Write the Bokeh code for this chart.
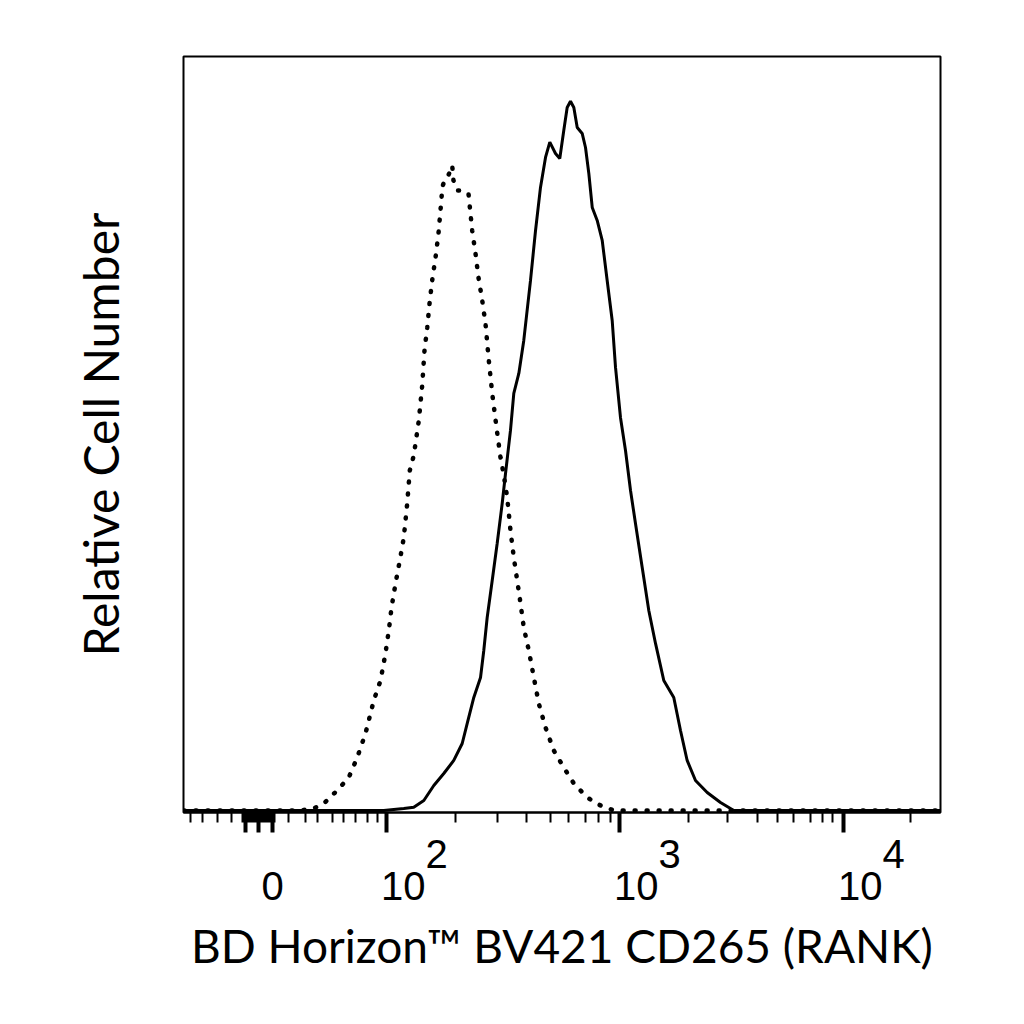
from bokeh.plotting import figure
from bokeh.models import Range1d, FixedTicker, LinearAxis
from bokeh.embed import file_html
from bokeh.resources import INLINE

# histograms on a 1024-channel display scale (biexponential axis)
iso_ch = [0, 158.3, 176.3, 189.8, 207.9, 223.6, 235.0, 246.2, 257.4, 266.5,
          273.2, 277.7, 281.4, 286.8, 292.6, 298.0, 302.6, 306.1, 311.5, 318.3,
          322.9, 326.0, 329.7, 332.8, 336.4, 340.9, 344.9, 349.0, 350.0, 351.7,
          356.7, 363.5, 365.2, 370.6, 374.7, 385.5, 390.5, 395.0, 399.0, 404.1,
          408.5, 412.6, 417.6, 423.4, 428.8, 432.9, 437.9, 442.3, 446.8, 451.4,
          455.9, 460.3, 467.1, 473.9, 480.6, 489.7, 500.9, 514.4, 528.0, 546.1,
          564.1, 582.1, 1024]
iso_count = [0, 0, 0.27, 0.93, 2.67, 4.4, 7.07, 10.27, 14.67, 17.33,
             20.93, 24.0, 27.07, 30.27, 33.33, 36.4, 40.93, 45.33, 47.33, 52.0,
             56.67, 61.33, 64.4, 67.6, 70.67, 73.73, 76.93, 81.6, 83.1, 83.6,
             84.27, 86.0, 84.0, 82.67, 82.67, 82.27, 77.33, 74.27, 71.07, 68.0,
             64.93, 60.4, 55.6, 51.07, 47.07, 44.93, 41.73, 37.33, 33.73, 30.67,
             27.6, 24.4, 21.33, 17.73, 14.27, 11.07, 8.0, 5.73, 3.6, 1.73,
             0.67, 0, 0]

rank_ch = [0, 270.9, 298.0, 311.5, 325.1, 338.6, 352.1, 365.6, 377.0, 383.8,
           392.7, 401.8, 406.2, 410.8, 417.6, 424.3, 431.1, 435.6, 442.3, 446.8,
           453.6, 460.3, 469.4, 476.2, 482.9, 489.7, 495.5, 503.2, 509.0, 514.4,
           519.0, 523.5, 528.0, 532.6, 539.3, 543.8, 548.3, 552.9, 559.6, 566.4,
           573.1, 579.9, 584.4, 591.1, 597.9, 604.7, 611.4, 620.5, 629.4, 638.5,
           649.7, 663.2, 672.3, 681.3, 692.6, 708.4, 726.4, 744.4, 1024]
rank_count = [0, 0, 0.27, 0.44, 1.33, 3.33, 4.93, 6.67, 8.93, 11.6,
              15.07, 17.73, 21.33, 25.73, 30.67, 35.6, 40.93, 44.93, 50.67, 55.6,
              58.27, 62.67, 70.67, 77.33, 83.07, 87.07, 89.11, 87.6, 86.93, 90.67,
              93.73, 94.57, 93.73, 91.07, 90.27, 88.4, 84.93, 80.4, 78.67, 76.0,
              70.67, 65.33, 59.07, 52.4, 48.0, 42.67, 38.27, 32.4, 26.67, 22.27,
              17.33, 15.07, 10.67, 6.67, 4.0, 2.4, 1.07, 0, 0]

major_ticks = [84, 101.5, 120.4, 274.6, 589.8, 892.8]
minor_ticks = [9.5, 25.7, 46.0, 64.9,
               80, 82.7, 85.4, 88.1, 90.8, 93.5, 96.2, 98.9, 101.6, 104.3,
               107, 109.7, 112.4, 115.1, 117.8, 120.5, 123.2,
               142.0, 165.0, 181.3, 201.6, 216.4, 232.7, 248.9, 262.4,
               367.9, 424.7, 464.0, 496.4, 520.8, 543.8, 561.4, 577.6,
               683.1, 735.9, 776.5, 803.5, 825.2, 848.2, 864.4, 877.9,
               983.4]
# "10" with the exponent raised above it at full size; figure spaces
# (U+2007) and punctuation spaces (U+2008) nudge the centred lines right
tick_labels = {84: "", 101.5: "", 120.4: "\n0",
               274.6: "\u2007\u2007\u2007\u2007\u20082\n\u2007\u200810",
               589.8: "\u2007\u2007\u2007\u2007\u20083\n\u2007\u200810",
               892.8: "\u2007\u2007\u2007\u2007\u20084\n\u2007\u200810"}

p = figure(width=1000, height=1000,
           x_range=Range1d(0, 1024), y_range=Range1d(-0.27, 100.53),
           y_axis_location=None,
           min_border_left=183, min_border_right=60,
           min_border_top=56, min_border_bottom=188,
           output_backend="svg", toolbar_location=None)

p.line(iso_ch, iso_count, color="black", line_width=4.5,
       line_dash="1 11", line_cap="round")
p.line(rank_ch, rank_count, color="black", line_width=3)

p.xgrid.visible = False
p.ygrid.visible = False
p.outline_line_color = "black"
p.outline_line_width = 2

xa = p.xaxis[0]
xa.ticker = FixedTicker(ticks=major_ticks, minor_ticks=minor_ticks)
xa.major_label_overrides = tick_labels
xa.axis_line_width = 2
xa.major_tick_in = 0
xa.major_tick_out = 20
xa.minor_tick_in = 0
xa.minor_tick_out = 10
xa.major_tick_line_width = 4
xa.minor_tick_line_width = 2
xa.major_label_text_font = "Liberation Sans"
xa.major_label_text_font_size = "40px"
xa.major_label_text_line_height = 0.74
xa.major_label_text_color = "black"
xa.major_label_standoff = -1
xa.axis_label = "BD Horizon\u2122 BV421 CD265 (RANK)"
xa.axis_label_text_font = "Lato"
xa.axis_label_text_font_size = "46px"
xa.axis_label_text_font_style = "normal"
xa.axis_label_text_color = "black"
xa.axis_label_standoff = 7

ya = LinearAxis(ticker=FixedTicker(ticks=[]), axis_line_color=None,
                major_tick_line_color=None, minor_tick_line_color=None,
                axis_label="Relative Cell Number")
ya.axis_label_text_font = "Lato"
ya.axis_label_text_font_size = "48px"
ya.axis_label_text_font_style = "normal"
ya.axis_label_text_color = "black"
ya.axis_label_standoff = 55
p.add_layout(ya, "left")

open("out.html", "w").write(file_html(p, INLINE))
